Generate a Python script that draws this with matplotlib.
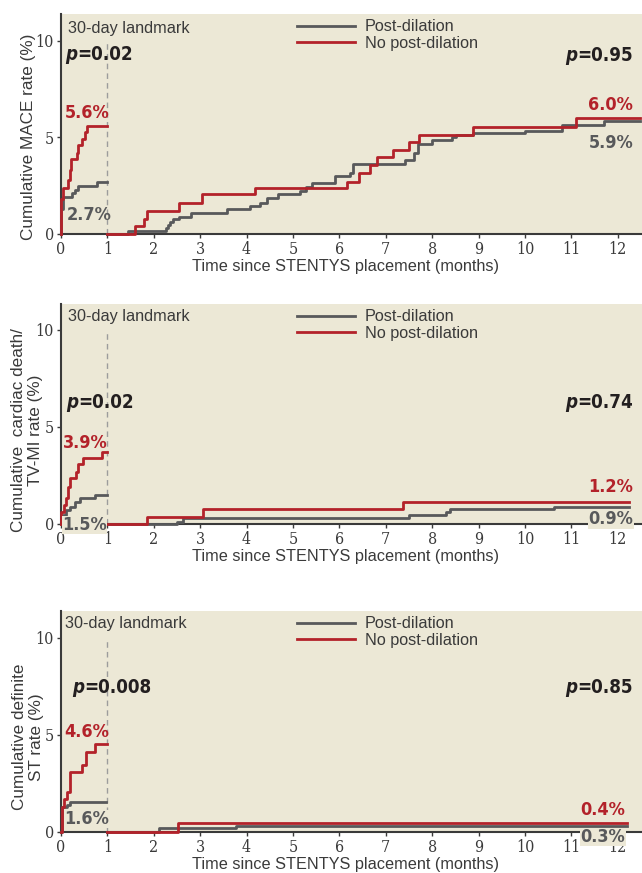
import os
import matplotlib
matplotlib.use('Agg')
import matplotlib.pyplot as plt
from matplotlib import font_manager
from matplotlib.font_manager import FontProperties
from matplotlib.lines import Line2D

# ---- data ----
# panel 1: MACE
mace_post_early_t = [0, 0.01, 0.05, 0.23, 0.30, 0.37, 0.77, 1.0]
mace_post_early_v = [0, 1.3, 1.9, 2.1, 2.3, 2.5, 2.7, 2.7]
mace_nopost_early_t = [0, 0.01, 0.04, 0.16, 0.20, 0.22, 0.34, 0.37, 0.45, 0.52, 0.56, 1.0]
mace_nopost_early_v = [0, 1.8, 2.4, 2.8, 3.3, 3.9, 4.2, 4.6, 4.9, 5.3, 5.6, 5.6]
mace_post_late_t = [1.0, 1.44, 2.26, 2.30, 2.35, 2.42, 2.55, 2.8, 3.57, 4.08, 4.28, 4.43,
                    4.67, 5.15, 5.28, 5.4, 5.91, 6.22, 6.3, 7.42, 7.6, 7.7, 7.99, 8.42,
                    8.51, 8.87, 10.0, 10.79, 11.7, 12.47]
mace_post_late_v = [0, 0.15, 0.3, 0.45, 0.6, 0.75, 0.9, 1.1, 1.28, 1.45, 1.6, 1.85,
                    2.05, 2.25, 2.45, 2.66, 3.02, 3.18, 3.63, 3.83, 4.18, 4.66, 4.87, 5.0,
                    5.13, 5.22, 5.35, 5.65, 5.87, 5.87]
mace_nopost_late_t = [1.0, 1.6, 1.78, 1.85, 2.55, 3.03, 4.18, 6.16, 6.43, 6.66, 6.8, 7.16,
                      7.49, 7.72, 8.87, 11.09, 12.47]
mace_nopost_late_v = [0, 0.4, 0.8, 1.2, 1.6, 2.07, 2.37, 2.7, 3.18, 3.58, 4.0, 4.35,
                      4.78, 5.13, 5.53, 6.0, 6.0]

# panel 2: cardiac death / TV-MI
cd_post_early_t = [0, 0.01, 0.05, 0.10, 0.19, 0.30, 0.40, 0.73, 1.0]
cd_post_early_v = [0, 0.2, 0.46, 0.7, 0.9, 1.15, 1.32, 1.49, 1.49]
cd_nopost_early_t = [0, 0.01, 0.07, 0.10, 0.16, 0.20, 0.32, 0.37, 0.47, 0.88, 1.0]
cd_nopost_early_v = [0, 0.63, 0.98, 1.32, 1.92, 2.39, 2.7, 3.09, 3.42, 3.73, 3.73]
cd_post_late_t = [1.0, 2.5, 2.62, 7.49, 8.29, 8.39, 10.63, 12.23]
cd_post_late_v = [0, 0.1, 0.29, 0.46, 0.63, 0.77, 0.89, 0.89]
cd_nopost_late_t = [1.0, 1.85, 3.05, 7.37, 12.23]
cd_nopost_late_v = [0, 0.38, 0.76, 1.12, 1.12]

# panel 3: definite ST
st_post_early_t = [0, 0.03, 0.12, 0.19, 0.97]
st_post_early_v = [0, 1.27, 1.4, 1.56, 1.56]
st_nopost_early_t = [0, 0.03, 0.07, 0.12, 0.19, 0.46, 0.54, 0.73, 1.0]
st_nopost_early_v = [0, 1.31, 1.69, 2.08, 3.08, 3.45, 4.14, 4.54, 4.54]
st_post_late_t = [1.0, 2.12, 3.77, 12.19]
st_post_late_v = [0, 0.22, 0.32, 0.32]
st_nopost_late_t = [1.0, 2.53, 12.19]
st_nopost_late_v = [0, 0.45, 0.45]

ylabels = ['Cumulative MACE rate (%)',
           'Cumulative  cardiac death/\nTV-MI rate (%)',
           'Cumulative definite\nST rate (%)']
p_early = ['0.02', '0.02', '0.008']
p_late = ['0.95', '0.74', '0.85']
pct_nopost_early = ['5.6%', '3.9%', '4.6%']
pct_post_early = ['2.7%', '1.5%', '1.6%']
pct_nopost_late = ['6.0%', '1.2%', '0.4%']
pct_post_late = ['5.9%', '0.9%', '0.3%']
legend_labels = ['Post-dilation', 'No post-dilation']
x_ticks = list(range(13))
y_ticks = [0, 5, 10]

# ---- styling ----
BG = '#ECE8D6'
RED = '#B3222A'
GRAY = '#58595B'
INK = '#231F20'
TXT = '#3A3A3A'

names = {f.name for f in font_manager.fontManager.ttflist}
SANS = 'Liberation Sans' if 'Liberation Sans' in names else 'DejaVu Sans'


def _weight(f):
    w = f.weight
    if isinstance(w, str):
        w = font_manager.weight_dict.get(w, 400)
    return w


def find_condensed(bold, italic, serif=False):
    """look for a narrow/condensed font file, fall back to a normal family"""
    best = None
    for f in font_manager.fontManager.ttflist:
        base = os.path.basename(f.fname).lower()
        key = (f.name + ' ' + base).lower()
        if not ('narrow' in key or 'condensed' in key or str(f.stretch).endswith('condensed')):
            continue
        if 'extra' in key or 'ultra' in key or 'semi' in key:
            continue
        if ('serif' in key and 'sans' not in key) != serif:
            continue
        if (_weight(f) >= 600) != bold:
            continue
        if (f.style != 'normal') != italic:
            continue
        rank = 0 if 'liberation' in key else 1 if 'dejavu' in key else 2
        if best is None or rank < best[0]:
            best = (rank, f.fname)
    if best is not None:
        return FontProperties(fname=best[1])
    return None


def fp(size, bold=False, italic=False, serif=False):
    p = find_condensed(bold, italic, serif)
    if p is None and serif:
        p = find_condensed(bold, italic, False)
    if p is None:
        p = FontProperties(family=SANS, weight='bold' if bold else 'normal',
                           style='italic' if italic else 'normal')
    p = p.copy()
    p.set_size(size)
    return p


FP_TICK = fp(11.5, serif=True)
FP_BIG = fp(13.5, bold=True)
FP_BIG_IT = fp(13.5, bold=True, italic=True)
FP_PCT = fp(13, bold=True)

fig = plt.figure(figsize=(6.42, 8.73), dpi=100)

curves = [
    (mace_post_early_t, mace_post_early_v, mace_nopost_early_t, mace_nopost_early_v,
     mace_post_late_t, mace_post_late_v, mace_nopost_late_t, mace_nopost_late_v),
    (cd_post_early_t, cd_post_early_v, cd_nopost_early_t, cd_nopost_early_v,
     cd_post_late_t, cd_post_late_v, cd_nopost_late_t, cd_nopost_late_v),
    (st_post_early_t, st_post_early_v, st_nopost_early_t, st_nopost_early_v,
     st_post_late_t, st_post_late_v, st_nopost_late_t, st_nopost_late_v),
]

# axes boxes (fig fraction) and y-limits
boxes = [(0.095, 0.7320, 0.905, 0.2520),
         (0.095, 0.3998, 0.905, 0.2520),
         (0.095, 0.0470, 0.905, 0.2532)]
ytops = [11.4, 11.34, 11.39]
ylabel_pos = [(29, 137), (27, 430), (28, 737)]

# annotation positions (data coords) per panel
pos = [
    dict(land=(0.15, 10.67), pe=(0.09, 9.3), pl=(12.33, 9.27), ne=(0.09, 6.27), ge=(0.13, 0.98),
         nl=(12.33, 6.68), gl=(12.33, 4.72)),
    dict(land=(0.15, 10.67), pe=(0.11, 6.24), pl=(12.33, 6.24), ne=(0.05, 4.18), ge=(0.02, -0.05),
         nl=(12.33, 1.9), gl=(12.33, 0.24)),
    dict(land=(0.09, 10.72), pe=(0.24, 7.47), pl=(12.33, 7.47), ne=(0.07, 5.15), ge=(0.07, 0.67),
         nl=(12.16, 1.13), gl=(12.16, -0.26)),
]


def p_text(ax, x, y, value, ha):
    if ha == 'left':
        t = ax.text(x, y, 'p', fontproperties=FP_BIG_IT, color=INK, va='center', ha='left')
        ax.annotate('=' + value, xy=(1, 0), xycoords=t, va='bottom', ha='left',
                    fontproperties=FP_BIG, color=INK)
    else:
        t = ax.text(x, y, '=' + value, fontproperties=FP_BIG, color=INK, va='center', ha='right')
        ax.annotate('p', xy=(0, 0), xycoords=t, va='bottom', ha='right',
                    fontproperties=FP_BIG_IT, color=INK)


for i in range(3):
    ax = fig.add_axes(boxes[i])
    ax.set_facecolor(BG)
    pe_t, pe_v, ne_t, ne_v, pl_t, pl_v, nl_t, nl_v = curves[i]
    for t, v, c in [(pe_t, pe_v, GRAY), (ne_t, ne_v, RED), (pl_t, pl_v, GRAY), (nl_t, nl_v, RED)]:
        ax.step(t, v, where='post', color=c, lw=2.0, clip_on=False, zorder=3)
    ax.vlines(1, 0, 10, colors='#9C9C9C', linestyles=(0, (4, 3)), lw=1, zorder=2)

    ax.set_xlim(0, 12.52)
    ax.set_ylim(0, ytops[i])
    ax.set_xticks(x_ticks)
    ax.set_yticks(y_ticks)
    for s in ('top', 'right'):
        ax.spines[s].set_visible(False)
    for s in ('left', 'bottom'):
        ax.spines[s].set_color(TXT)
        ax.spines[s].set_linewidth(1.5)
        ax.spines[s].set_zorder(2.6)
    ax.tick_params(length=3, width=1, color=TXT, labelcolor=TXT, pad=2)
    for lab in ax.get_xticklabels() + ax.get_yticklabels():
        lab.set_fontproperties(FP_TICK)

    ax.set_xlabel('Time since STENTYS placement (months)', fontsize=11.7, color=TXT, family=SANS)
    ax.xaxis.set_label_coords(0.489, -0.112)
    fig.text(ylabel_pos[i][0] / 642, 1 - ylabel_pos[i][1] / 873, ylabels[i], rotation=90,
             ha='center', va='center', multialignment='center', fontsize=12.3, color=TXT,
             family=SANS, linespacing=1.1)

    handles = [Line2D([], [], color=GRAY, lw=2), Line2D([], [], color=RED, lw=2)]
    ax.legend(handles, legend_labels, loc='upper left', bbox_to_anchor=(0.406, 0.975),
              frameon=False, prop={'family': SANS, 'size': 11.7}, labelcolor=TXT,
              handlelength=3.57, handletextpad=0.6, labelspacing=0.1, borderpad=0,
              borderaxespad=0)

    p = pos[i]
    ax.text(*p['land'], '30-day landmark', fontsize=11.7, color=TXT, family=SANS,
            va='center', ha='left')
    p_text(ax, *p['pe'], p_early[i], 'left')
    p_text(ax, *p['pl'], p_late[i], 'right')

    box = dict(boxstyle='square,pad=0.02', fc=BG, ec='none')
    big = dict(fontproperties=FP_PCT, va='center', zorder=5)
    ax.text(*p['ne'], pct_nopost_early[i], color=RED, ha='left', **big)
    ax.text(*p['ge'], pct_post_early[i], color=GRAY, ha='left',
            bbox=box if i > 0 else None, **big)
    ax.text(*p['nl'], pct_nopost_late[i], color=RED, ha='right', **big)
    ax.text(*p['gl'], pct_post_late[i], color=GRAY, ha='right',
            bbox=box if i > 0 else None, **big)

fig.savefig('out.png', dpi=100, facecolor='white')
